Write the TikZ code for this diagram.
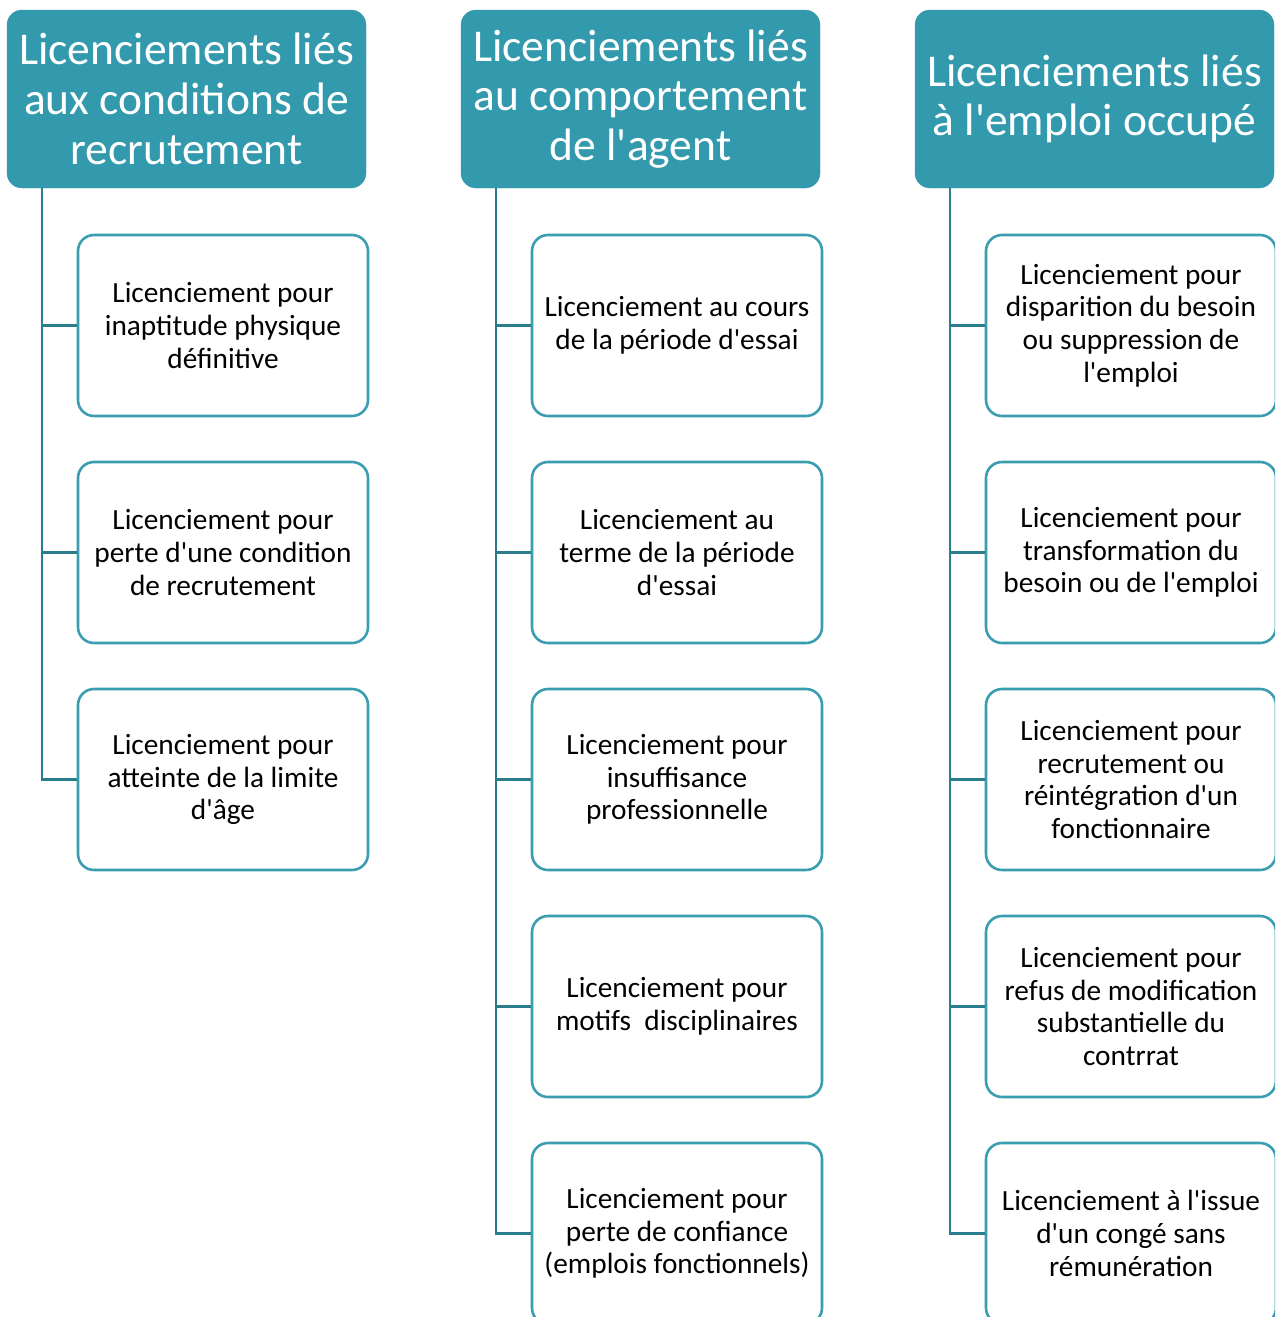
\documentclass[tikz,border=0pt]{standalone}
\usepackage{fontspec}
\setmainfont{Carlito}[Ligatures=TeXOff]
\definecolor{headfill}{HTML}{339AAE}
\definecolor{boxline}{HTML}{3A9DB0}
\definecolor{linkline}{HTML}{2A7E8B}
\begin{document}
\begin{tikzpicture}[x=1pt,y=-1pt,
  headbox/.style={draw=headfill,fill=headfill,rounded corners=15pt,
    minimum width=359pt,minimum height=178pt,align=center,text=white,
    inner sep=0pt,font=\fontsize{45.5}{49.7}\selectfont},
  itembox/.style={draw=boxline,line width=2.6pt,fill=white,rounded corners=16pt,
    minimum width=290pt,minimum height=181pt,align=center,text=black,
    inner sep=0pt,font=\fontsize{29.3}{32.6}\selectfont},
  link/.style={draw=linkline,line width=2.6pt}]
\useasboundingbox (0,0) rectangle (1275,1317);
\clip (0,0) rectangle (1275,1317);

% column headers
\node[headbox] (h1) at (186.5,99) {Licenciements liés\\aux conditions de\\recrutement};
\node[headbox] (h2) at (640.5,99) {Licenciements liés\\au comportement\\de l'agent};
\node[headbox] (h3) at (1094.5,99) {Licenciements liés\\à l'emploi occupé};

% first column
\node[itembox] (a1) at (223,325.5) {Licenciement pour\\inaptitude physique\\définitive};
\node[itembox] (a2) at (223,552.5) {Licenciement pour\\perte d'une condition\\de recrutement};
\node[itembox] (a3) at (223,779.5) {Licenciement pour\\atteinte de la limite\\d'âge};

% second column
\node[itembox] (b1) at (677,325.5) {Licenciement au cours\\de la période d'essai};
\node[itembox] (b2) at (677,552.5) {Licenciement au\\terme de la période\\d'essai};
\node[itembox] (b3) at (677,779.5) {Licenciement pour\\insuffisance\\professionnelle};
\node[itembox] (b4) at (677,1006.5) {Licenciement pour\\motifs\ \ disciplinaires};
\node[itembox] (b5) at (677,1233.5) {Licenciement pour\\perte de confiance\\(emplois fonctionnels)};

% third column
\node[itembox] (c1) at (1131,325.5) {Licenciement pour\\disparition du besoin\\ou suppression de\\l'emploi};
\node[itembox] (c2) at (1131,552.5) {Licenciement pour\\transformation du\\besoin ou de l'emploi};
\node[itembox] (c3) at (1131,779.5) {Licenciement pour\\recrutement ou\\réintégration d'un\\fonctionnaire};
\node[itembox] (c4) at (1131,1006.5) {Licenciement pour\\refus de modification\\substantielle du\\contrrat};
\node[itembox] (c5) at (1131,1233.5) {Licenciement à l'issue\\d'un congé sans\\rémunération};

% tree connectors
\foreach \h/\x/\items in {h1/42/{a1,a2,a3},h2/496/{b1,b2,b3,b4,b5},h3/950/{c1,c2,c3,c4,c5}}{
  \foreach \c in \items {
    \draw[link] (\h.south -| \x,0) |- (\c.west);
  }
}
\end{tikzpicture}
\end{document}
